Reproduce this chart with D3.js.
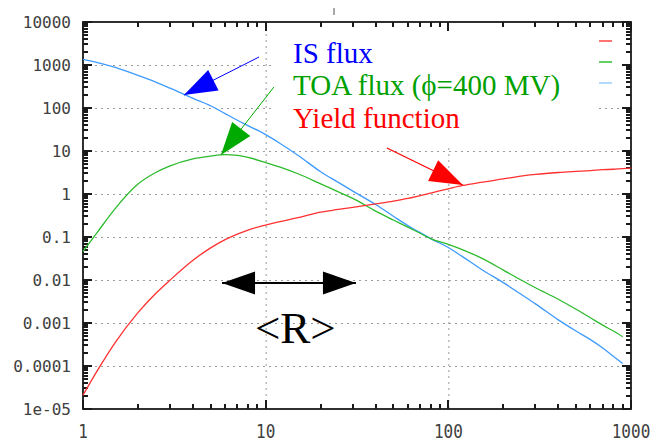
<!DOCTYPE html>
<html>
<head>
<meta charset="utf-8">
<script src="https://cdn.jsdelivr.net/npm/d3@7"></script>
<style>
  body { margin: 0; background: #fff; }
  svg { display: block; }
</style>
</head>
<body>
<div class="container"></div>
<script>
const w = 657
const h = 441
const plotLeft = 83, plotRight = 631, plotTop = 22, plotBottom = 409

// energies (x) shared by the curves
const energy = [1, 1.2, 1.5, 2, 2.5, 3, 4, 5, 6, 7, 8, 10, 12, 15, 20, 25, 30, 40, 50, 60, 70, 80,
  100, 120, 150, 200, 250, 300, 400, 500, 600, 700, 800, 900]
const redEnergy = energy.concat([1000])

const isFlux = [1350, 1135, 880, 574, 401, 289, 168, 113, 74, 52, 39, 24, 15, 8.0, 3.3, 1.86, 1.17,
  0.57, 0.305, 0.184, 0.127, 0.092, 0.057, 0.0345, 0.0183, 0.00867, 0.00468, 0.00279, 0.00118,
  6.5e-4, 4.1e-4, 2.63e-4, 1.69e-4, 1.14e-4]
const toaFlux = [0.046, 0.13, 0.457, 1.7, 3.16, 4.5, 6.55, 7.6, 8.2, 7.9, 7.1, 5.4, 4.2, 2.96,
  1.72, 1.12, 0.79, 0.40, 0.248, 0.17, 0.122, 0.092, 0.0676, 0.0504, 0.0331, 0.017, 0.01, 0.0066,
  0.00357, 0.00209, 0.00132, 8.9e-4, 6.5e-4, 4.8e-4]
const yieldFn = [2.1e-5, 7.9e-5, 3.5e-4, 1.74e-3, 4.85e-3, 0.01, 0.0288, 0.056, 0.087, 0.117, 0.145,
  0.19, 0.229, 0.282, 0.38, 0.437, 0.49, 0.59, 0.684, 0.79, 0.92, 1.05, 1.32, 1.58, 1.86, 2.24,
  2.6, 2.85, 3.16, 3.35, 3.5, 3.67, 3.76, 3.89, 3.98]

const yTicks = [1e4, 1e3, 100, 10, 1, 0.1, 0.01, 0.001, 1e-4, 1e-5]
const yTickLabels = ['10000', '1000', '100', '10', '1', '0.1', '0.01', '0.001', '0.0001', '1e-05']
const xTicks = [1, 10, 100, 1000]
const xTickLabels = ['1', '10', '100', '1000']
const minorSteps = [2, 3, 4, 5, 6, 7, 8, 9]

const labels = ['IS flux', 'TOA flux (\u03D5=400 MV)', 'Yield function']

const svg = d3.select('.container')
  .append('svg')
  .attr('width', w)
  .attr('height', h)

const xScale = d3.scaleLog().domain([1, 1000]).range([plotLeft, plotRight])
const yScale = d3.scaleLog().domain([1e-5, 1e4]).range([plotBottom, plotTop])

const xMinor = []
xTicks.slice(0, -1).forEach(d => minorSteps.forEach(m => xMinor.push(d * m)))
const yMinor = []
yTicks.slice(1).forEach(d => minorSteps.forEach(m => yMinor.push(d * m)))

// gridlines
svg.append('g').selectAll('line')
  .data([10, 100])
  .enter().append('line')
  .attr('x1', d => xScale(d) + 0.5).attr('x2', d => xScale(d) + 0.5)
  .attr('y1', plotTop).attr('y2', plotBottom)
  .attr('stroke', '#9a9a9a').attr('stroke-dasharray', '2,4')
svg.append('g').selectAll('line')
  .data(yTicks.slice(1, -1))
  .enter().append('line')
  .attr('x1', plotLeft).attr('x2', plotRight)
  .attr('y1', d => yScale(d) + 0.5).attr('y2', d => yScale(d) + 0.5)
  .attr('stroke', '#9a9a9a').attr('stroke-dasharray', '2,4')

// key area blanked out (hides grid behind labels)
svg.append('rect').attr('x', 273).attr('y', plotTop + 1).attr('width', 325).attr('height', 124).attr('fill', '#fff')
svg.append('rect').attr('x', 598).attr('y', plotTop + 1).attr('width', 21).attr('height', 52).attr('fill', '#fff')

// key samples
const keyColors = ['#ff4545', '#2ec02e', '#99ccff']
keyColors.forEach((c, i) => {
  svg.append('line')
    .attr('x1', 599).attr('x2', 612)
    .attr('y1', 41 + i * 21).attr('y2', 41 + i * 21)
    .attr('stroke', c).attr('stroke-width', 1.5)
})

// ticks on all four sides, pointing inwards (drawn as thin filled rects)
const major = 9, minor = 5
const tickColor = '#1a1a1a'
const xTickSet = xTicks.map(d => ({ v: d, len: major })).concat(xMinor.map(d => ({ v: d, len: minor })))
const yTickSet = yTicks.map(d => ({ v: d, len: major })).concat(yMinor.map(d => ({ v: d, len: minor })))
const tickG = svg.append('g')
tickG.selectAll('rect.xb')
  .data(xTickSet).enter().append('rect')
  .attr('x', d => Math.round(xScale(d.v)) - 1).attr('width', 2)
  .attr('y', d => plotBottom - d.len).attr('height', d => d.len)
  .attr('fill', tickColor)
tickG.selectAll('rect.xt')
  .data(xTickSet).enter().append('rect')
  .attr('x', d => Math.round(xScale(d.v)) - 1).attr('width', 2)
  .attr('y', plotTop).attr('height', d => d.len)
  .attr('fill', tickColor)
tickG.selectAll('rect.yl')
  .data(yTickSet).enter().append('rect')
  .attr('y', d => Math.round(yScale(d.v)) - 1).attr('height', 2)
  .attr('x', plotLeft).attr('width', d => d.len)
  .attr('fill', tickColor)
tickG.selectAll('rect.yr')
  .data(yTickSet).enter().append('rect')
  .attr('y', d => Math.round(yScale(d.v)) - 1).attr('height', 2)
  .attr('x', d => plotRight - d.len).attr('width', d => d.len)
  .attr('fill', tickColor)

// tick labels
svg.append('g').selectAll('text')
  .data(yTicks)
  .enter().append('text')
  .attr('x', plotLeft - 12)
  .attr('y', d => yScale(d))
  .attr('dy', '0.36em')
  .attr('text-anchor', 'end')
  .attr('font-family', 'DejaVu Sans Mono, monospace')
  .attr('font-size', 16)
  .attr('fill', '#404040')
  .text((d, i) => yTickLabels[i])
svg.append('g').selectAll('text')
  .data(xTicks)
  .enter().append('text')
  .attr('transform', d => 'translate(' + xScale(d) + ',' + (plotBottom + 29) + ') scale(1,1.25)')
  .attr('text-anchor', 'middle')
  .attr('font-family', 'DejaVu Sans Mono, monospace')
  .attr('font-size', 16)
  .attr('fill', '#404040')
  .text((d, i) => xTickLabels[i])

// frame
svg.append('rect')
  .attr('x', plotLeft).attr('y', plotTop)
  .attr('width', plotRight - plotLeft).attr('height', plotBottom - plotTop)
  .attr('fill', 'none').attr('stroke', tickColor).attr('stroke-width', 1.8)

// stray tick above the frame
svg.append('line').attr('x1', 334).attr('x2', 334).attr('y1', 8).attr('y2', 15)
  .attr('stroke', '#555').attr('stroke-width', 1)

// curves
const line = d3.line().curve(d3.curveMonotoneX).x(d => xScale(d[0])).y(d => yScale(d[1]))
const series = [
  { x: energy, y: isFlux, color: '#3d9bff' },
  { x: energy, y: toaFlux, color: '#2dbb2d' },
  { x: redEnergy, y: yieldFn, color: '#ff3030' }
]
series.forEach(s => {
  svg.append('path')
    .datum(s.x.map((e, i) => [e, s.y[i]]))
    .attr('d', line)
    .attr('fill', 'none')
    .attr('stroke', s.color)
    .attr('stroke-width', 1.3)
})

// arrows
const drawArrow = (x1, y1, x2, y2, color, width, both) => {
  const p1 = [xScale(x1), yScale(y1)]
  const p2 = [xScale(x2), yScale(y2)]
  const len = 33, half = 11.5
  const head = (tip, from) => {
    const dx = tip[0] - from[0], dy = tip[1] - from[1]
    const d = Math.sqrt(dx * dx + dy * dy)
    const ux = dx / d, uy = dy / d
    const bx = tip[0] - ux * len, by = tip[1] - uy * len
    svg.append('polygon')
      .attr('points', [tip, [bx - uy * half, by + ux * half], [bx + uy * half, by - ux * half]].map(p => p.join(',')).join(' '))
      .attr('fill', color)
  }
  svg.append('line')
    .attr('x1', p1[0]).attr('y1', p1[1]).attr('x2', p2[0]).attr('y2', p2[1])
    .attr('stroke', color).attr('stroke-width', width)
  head(p2, p1)
  if (both) head(p1, p2)
}
drawArrow(9.2, 1535, 3.57, 200, '#0000ff', 1, false)
drawArrow(11.1, 308, 5.69, 8.07, '#00aa00', 1, false)
drawArrow(46.1, 11.7, 120, 1.62, '#ff0000', 1.2, false)
drawArrow(5.77, 0.0085, 31.2, 0.0085, '#000', 2, true)

// labels
const labelColors = ['#0000ff', '#00a000', '#ff0000']
labels.forEach((t, i) => {
  svg.append('text')
    .attr('x', 293)
    .attr('y', 62.5 + i * 32.5)
    .attr('font-family', 'Liberation Serif, Times New Roman, serif')
    .attr('font-size', 29)
    .attr('fill', labelColors[i])
    .text(t)
})

svg.append('text')
  .attr('x', xScale(8.74))
  .attr('y', yScale(3.4e-4))
  .attr('font-family', 'Liberation Serif, Times New Roman, serif')
  .attr('font-size', 45)
  .attr('fill', '#000')
  .text('<R>')
</script>
</body>
</html>
